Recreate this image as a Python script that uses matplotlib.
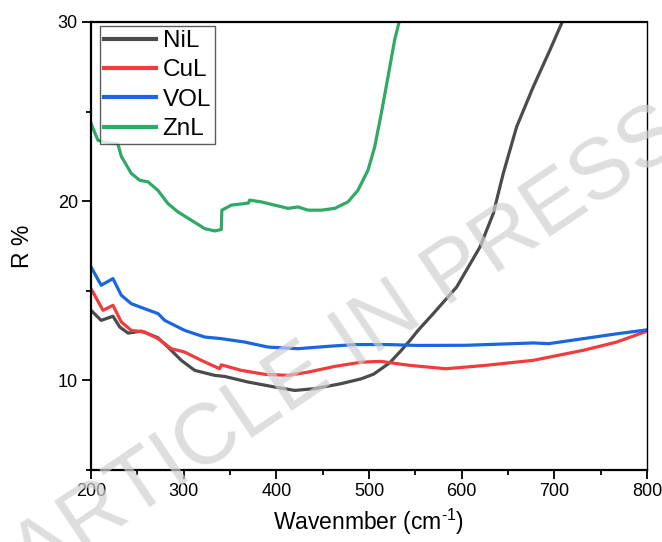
import matplotlib
matplotlib.use("Agg")
import matplotlib.pyplot as plt
import numpy as np

plt.rcParams['font.family'] = ['Liberation Sans', 'DejaVu Sans']
plt.rcParams['mathtext.fontset'] = 'custom'
plt.rcParams['mathtext.rm'] = 'Liberation Sans'
plt.rcParams['mathtext.it'] = 'Liberation Sans:italic'
plt.rcParams['mathtext.default'] = 'regular'

# NiL
nil_x = [200, 211, 223.7, 231, 240, 254.3, 272.3, 283, 297.4, 311.9, 333.5, 344.3, 369.4, 398.2,
         419.8, 441.4, 470.1, 491.7, 505, 513.3, 522.7, 534.9, 544.2, 552.9, 569.4, 594.6, 619.8, 634.1,
         644.9, 659.3, 677.3, 695.3, 707.9, 715]
nil_y = [13.91, 13.35, 13.58, 12.98, 12.64, 12.75, 12.38, 11.86, 11.12, 10.56, 10.28, 10.22, 9.91, 9.63,
         9.44, 9.54, 9.82, 10.09, 10.35, 10.65, 11.0, 11.68, 12.23, 12.79, 13.73, 15.21, 17.45, 19.31,
         21.55, 24.15, 26.39, 28.44, 29.93, 30.8]
# CuL
cul_x = [200, 213, 223.7, 232.7, 243.5, 257.9, 272.3, 286.7, 301.1, 319, 338.9, 340.6, 362.2, 387.4,
         412.6, 434.2, 463, 491.7, 513.3, 534.9, 544.2, 583, 626, 677.3, 731.3, 767.3, 800]
cul_y = [15.12, 13.91, 14.19, 13.26, 12.79, 12.70, 12.33, 11.77, 11.58, 11.12, 10.65, 10.87, 10.56, 10.34,
         10.28, 10.46, 10.78, 11.02, 11.06, 10.9, 10.84, 10.65, 10.84, 11.12, 11.68, 12.14, 12.75]
# VOL
vol_x = [200, 211, 223.7, 232.7, 243.5, 257.9, 272.3, 279.5, 301.1, 322.7, 340.6, 365.8, 391, 423.4,
         455.7, 484.6, 520.5, 552.9, 605.4, 677.3, 694, 731.3, 767.3, 800]
vol_y = [16.33, 15.31, 15.68, 14.75, 14.28, 14.0, 13.73, 13.35, 12.79, 12.42, 12.33, 12.14, 11.86, 11.77,
         11.9, 12.0, 12.0, 11.95, 11.96, 12.09, 12.05, 12.33, 12.6, 12.82]
# ZnL
znl_x = [200, 207.5, 215, 229, 232.7, 243.5, 252.5, 261.5, 272.3, 283, 293.9, 308.2, 322.7, 333.5,
         340.6, 341.2, 351.4, 365.8, 370, 371.2, 383.8, 398.2, 412.6, 423.4, 434.2, 448.5, 463, 477.3,
         488, 498.9, 506, 513.3, 520.5, 527.7, 533, 540]
znl_y = [24.34, 23.4, 23.3, 23.2, 22.5, 21.55, 21.17, 21.08, 20.6, 19.87, 19.4, 18.94, 18.47, 18.34,
         18.42, 19.5, 19.78, 19.87, 19.9, 20.06, 19.96, 19.78, 19.6, 19.68, 19.5, 19.5, 19.6, 19.96,
         20.6, 21.73, 23.0, 24.9, 26.94, 29.0, 30.1, 31.2]

labels = ['NiL', 'CuL', 'VOL', 'ZnL']
colors = ['#4b4b4b', '#f03c3c', '#1a66e0', '#2eaa66']
x_ticks = [200, 300, 400, 500, 600, 700, 800]
y_ticks = [10, 20, 30]

fig = plt.figure(figsize=(6.62, 5.42), dpi=100)
ax = fig.add_axes([91/662, 1-470/542, 556/662, 448/542])

for xs, ys, lab, c in zip([nil_x, cul_x, vol_x, znl_x], [nil_y, cul_y, vol_y, znl_y], labels, colors):
    ax.plot(xs, ys, color=c, lw=2.3, label=lab, solid_joinstyle='round')

ax.set_xlim(200, 800)
ax.set_ylim(5, 30)
ax.set_xticks(x_ticks)
ax.set_yticks(y_ticks)
ax.set_xticks(np.arange(250, 800, 100), minor=True)
ax.set_yticks([5, 15, 25], minor=True)
ax.tick_params(axis='both', which='major', direction='out', length=6.5, width=1.3, labelsize=13, pad=3)
ax.tick_params(axis='both', which='minor', direction='out', length=3.5, width=1.3)
for s in ['left', 'bottom', 'top']:
    ax.spines[s].set_linewidth(1.6)
ax.spines['right'].set_linewidth(1.0)

ax.set_xlabel('Wavenmber (cm$^{\\text{-}1}$)', fontsize=16.5, labelpad=5)
ax.set_ylabel('R %', fontsize=16.5, labelpad=17)

leg = ax.legend(loc='upper left', bbox_to_anchor=(0.016, 0.99), fontsize=17.5, frameon=True,
                fancybox=False, handlelength=2.15, handletextpad=0.28, labelspacing=0.3,
                borderpad=0.15, borderaxespad=0)
leg.get_frame().set_edgecolor('#333333')
leg.get_frame().set_linewidth(1.0)
for h in leg.get_lines():
    h.set_linewidth(3)

fig.text(0.525, 0.36, 'ARTICLE IN PRESS', fontsize=62, color='#d0d0d0', alpha=0.7,
         rotation=34, ha='center', va='center', zorder=10)

fig.savefig('out.png', dpi=100)
